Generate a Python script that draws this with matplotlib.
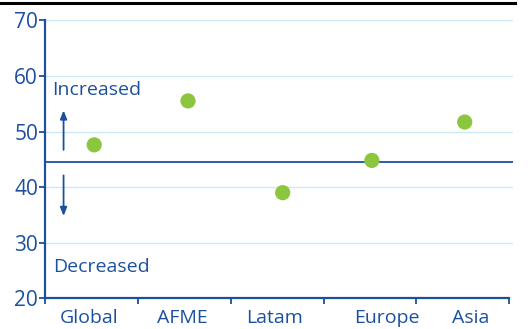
import matplotlib
matplotlib.use("Agg")
import matplotlib.pyplot as plt
from matplotlib.lines import Line2D

categories = ["Global", "AFME", "Latam", "Europe", "Asia"]
values = [47.6, 55.5, 39.0, 44.8, 51.7]
label_pos = [0.47, 1.48, 2.47, 3.68, 4.58]
point_pos = [0.53, 1.54, 2.56, 3.52, 4.52]
baseline = 44.5
yticks = [20, 30, 40, 50, 60, 70]

blue = "#1c509f"
grid_c = "#c9e9f6"
green = "#8cc63f"

plt.rcParams['font.family'] = ['Open Sans', 'DejaVu Sans']

fig = plt.figure(figsize=(5.28, 3.29), dpi=100)
ax = fig.add_axes([0.0852, 0.0933, 0.8864, 0.845])

ax.set_ylim(20, 70)
ax.set_xlim(0, 5.04)
for y in yticks[1:]:
    ax.axhline(y, color=grid_c, lw=1.0, zorder=1)
ax.axhline(baseline, color=blue, lw=1.3, zorder=2)

ax.scatter(point_pos, values, s=120, color=green, zorder=3, edgecolors='none')

ax.set_yticks(yticks)
ax.set_yticklabels([str(v) for v in yticks])
ax.set_xticks([0, 1, 2, 3, 4, 5])
ax.set_xticklabels([])
ax.set_xticks(label_pos, minor=True)
ax.set_xticklabels(categories, minor=True)
ax.tick_params(axis='x', which='minor', length=0, pad=8, labelsize=14, labelcolor=blue)
ax.tick_params(axis='x', which='major', length=4, width=1.3, color=blue)
ax.tick_params(axis='y', length=4, width=1.3, color=blue, labelsize=15, labelcolor=blue, pad=1)

for s in ['top', 'right']:
    ax.spines[s].set_visible(False)
for s in ['left', 'bottom']:
    ax.spines[s].set_color(blue)
    ax.spines[s].set_linewidth(1.6)
ax.spines['bottom'].set_bounds(0, 5)

ax.text(0.075, 57.5, "Increased", color=blue, fontsize=14, va='center', ha='left')
ax.text(0.085, 25.6, "Decreased", color=blue, fontsize=14, va='center', ha='left')
ax.annotate("", xy=(0.2, 53.8), xytext=(0.2, 46.7),
            arrowprops=dict(arrowstyle='-|>,head_width=0.2,head_length=0.5', color=blue, lw=1.3,
                            shrinkA=0, shrinkB=0))
ax.annotate("", xy=(0.2, 34.8), xytext=(0.2, 42.1),
            arrowprops=dict(arrowstyle='-|>,head_width=0.2,head_length=0.5', color=blue, lw=1.3,
                            shrinkA=0, shrinkB=0))

fig.add_artist(Line2D([0, 515/528], [1 - 3/329, 1 - 3/329], color='black', lw=2.2, transform=fig.transFigure))

fig.savefig("out.png", dpi=100)
